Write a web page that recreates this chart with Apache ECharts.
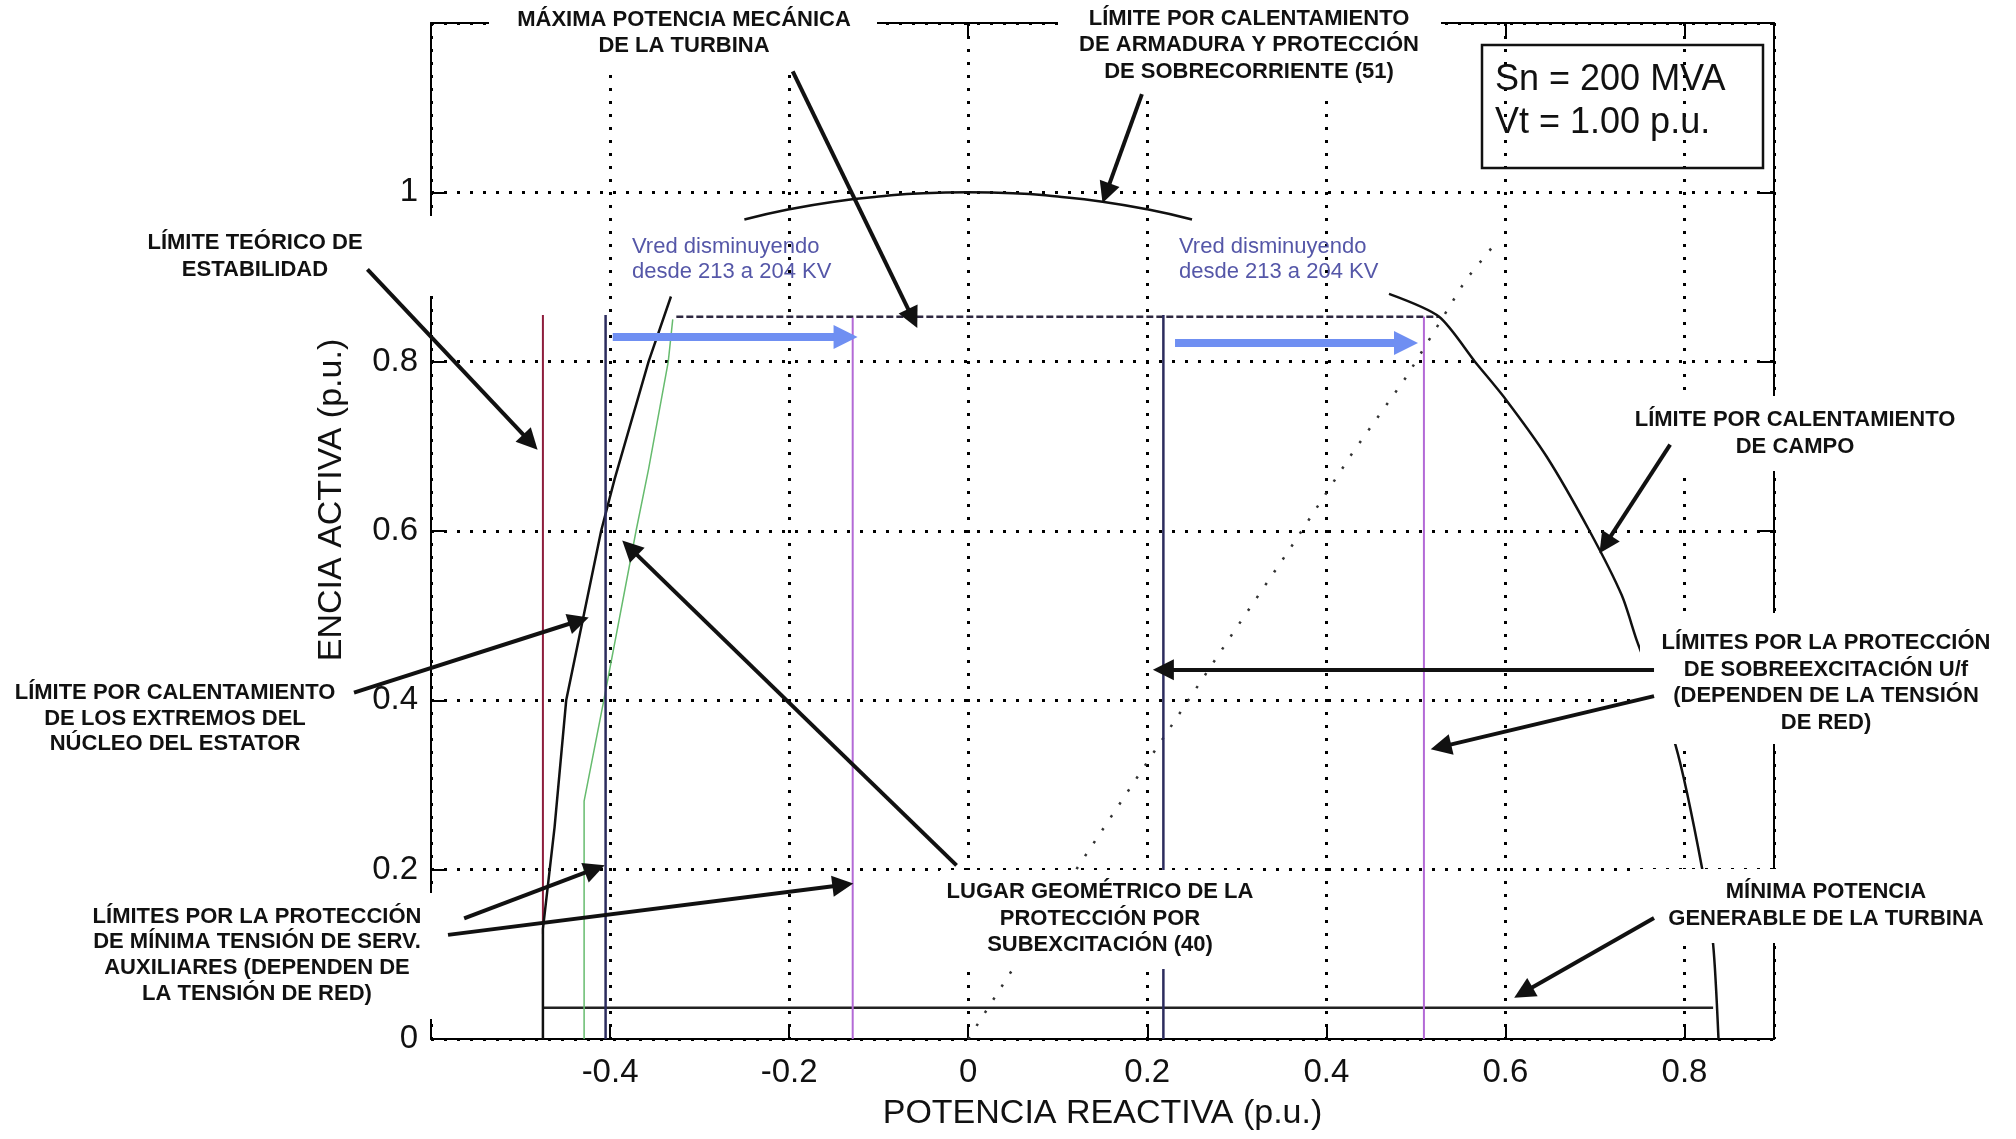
<!DOCTYPE html>
<html><head><meta charset="utf-8">
<script src="https://cdn.jsdelivr.net/npm/echarts@6/dist/echarts.min.js"></script>
<style>html,body{margin:0;padding:0;background:#fff}#c{width:2016px;height:1139px}</style>
</head><body><div id="c"></div>
<script>
// ---- Data (Q = reactive power p.u., P = active power p.u.) ----
const xTickValues = [-0.4, -0.2, 0, 0.2, 0.4, 0.6, 0.8];
const yTickValues = [0, 0.2, 0.4, 0.6, 0.8, 1];

const armatureLimit = [[-0.25,0.968],[-0.2,0.98],[-0.15,0.989],[-0.1,0.995],[-0.05,0.999],[0,1.0],[0.05,0.999],[0.1,0.995],[0.15,0.989],[0.2,0.98],[0.25,0.968]];
const turbineMaxPower = [[-0.326,0.853],[0.526,0.853]];
const fieldLimit = [[0.47,0.88],[0.526,0.853],[0.566,0.8],[0.6,0.756],[0.646,0.688],[0.694,0.6],[0.73,0.524],[0.747,0.47],[0.79,0.347],[0.82,0.2],[0.832,0.112],[0.838,0.0]];
const turbineMinPower = [[-0.475,0.037],[0.832,0.037]];
const statorEndLimit = [[-0.475,0],[-0.475,0.13],[-0.462,0.25],[-0.449,0.4],[-0.41,0.6],[-0.395,0.661],[-0.357,0.8],[-0.332,0.877]];
const stabilityLimit = [[-0.475,0.124],[-0.475,0.855]];
const auxVoltageLimit = [[-0.429,0],[-0.429,0.281],[-0.407,0.4],[-0.371,0.6],[-0.357,0.673],[-0.335,0.8],[-0.33,0.85]];
const underexcA = [[-0.405,0],[-0.405,0.855]];
const underexcB = [[-0.129,0],[-0.129,0.852]];
const overexcA = [[0.218,0],[0.218,0.855]];
const overexcB = [[0.509,0],[0.509,0.853]];
const underexcLocus = [[0,0],[0.123,0.204],[0.2,0.327],[0.296,0.48],[0.36,0.58],[0.429,0.692],[0.49,0.783],[0.556,0.897],[0.589,0.94]];

const vredArrows = [
  [[-0.397,0.829],[-0.137,0.829]],
  [[0.231,0.822],[0.489,0.822]]
];
const calloutArrows = [
  [[-0.196,1.143],[-0.062,0.851]],
  [[0.194,1.116],[0.154,0.999]],
  [[-0.671,0.909],[-0.489,0.705]],
  [[0.784,0.702],[0.7115,0.584]],
  [[0.766,0.436],[0.218,0.436]],
  [[0.766,0.405],[0.528,0.345]],
  [[-0.686,0.409],[-0.435,0.494]],
  [[-0.563,0.1425],[-0.417,0.2008]],
  [[-0.581,0.123],[-0.140,0.182]],
  [[-0.013,0.205],[-0.378,0.58]],
  [[0.766,0.143],[0.62,0.055]]
];

const notes = [
  {lines:['MÁXIMA POTENCIA MECÁNICA','DE LA TURBINA'], x:684, y:[20,46], box:[489,0,388,72]},
  {lines:['LÍMITE POR CALENTAMIENTO','DE ARMADURA Y PROTECCIÓN','DE SOBRECORRIENTE (51)'], x:1249, y:[19,45,72], box:[1058,0,383,95]},
  {lines:['LÍMITE TEÓRICO DE','ESTABILIDAD'], x:255, y:[243,270], box:[140,216,300,80]},
  {lines:['LÍMITE POR CALENTAMIENTO','DE CAMPO'], x:1795, y:[420,447], box:[1632,396,384,75]},
  {lines:['LÍMITES POR LA PROTECCIÓN','DE SOBREEXCITACIÓN U/f','(DEPENDEN DE LA TENSIÓN','DE RED)'], x:1826, y:[643,670,696,723], box:[1640,613,376,131]},
  {lines:['LÍMITE POR CALENTAMIENTO','DE LOS EXTREMOS DEL','NÚCLEO DEL ESTATOR'], x:175, y:[693,719,744], box:[0,665,350,93]},
  {lines:['LÍMITES POR LA PROTECCIÓN','DE MÍNIMA TENSIÓN DE SERV.','AUXILIARES (DEPENDEN DE','LA TENSIÓN DE RED)'], x:257, y:[917,942,968,994], box:[60,893,380,126]},
  {lines:['LUGAR GEOMÉTRICO DE LA','PROTECCIÓN POR','SUBEXCITACIÓN (40)'], x:1100, y:[892,919,945], box:[940,870,322,99]},
  {lines:['MÍNIMA POTENCIA','GENERABLE DE LA TURBINA'], x:1826, y:[892,919], box:[1632,869,384,74]}
];
const vredNotes = [
  {lines:['Vred disminuyendo','desde 213 a 204 KV'], x:632, y:[247,272]},
  {lines:['Vred disminuyendo','desde 213 a 204 KV'], x:1179, y:[247,272]}
];
const infoLines = ['Sn = 200 MVA', 'Vt = 1.00 p.u.'];

// ---- Chart ----
const FONT = '"Liberation Sans", Arial, Helvetica, sans-serif';
const chart = echarts.init(document.getElementById('c'));
const r1 = v => Math.round(v * 10) / 10;
const xFmt = v => { const r = r1(v); return xTickValues.indexOf(r) >= 0 ? String(r) : ''; };
const yFmt = v => { const r = r1(v); return yTickValues.indexOf(r) >= 0 ? String(r) : ''; };

function lineSeries(data, color, width, type, extra) {
  return Object.assign({
    type: 'line', data: data, showSymbol: false, symbol: 'none', silent: true,
    lineStyle: {color: color, width: width, type: type || 'solid'}
  }, extra || {});
}

const axisCommon = {
  type: 'value',
  axisLine: {onZero: false, lineStyle: {color: '#000', width: 2}},
  axisTick: {inside: true, length: 15, lineStyle: {color: '#000', width: 2}}
};
const gridLine = {show: true, lineStyle: {color: '#000', width: 3, type: [3, 10]}};

const graphics = [];
notes.forEach(n => {
  graphics.push({type: 'rect', silent: true, z: 50, shape: {x: n.box[0], y: n.box[1], width: n.box[2], height: n.box[3]}, style: {fill: '#fff'}});
  n.lines.forEach((t, i) => graphics.push({
    type: 'text', silent: true, z: 80, x: n.x, y: n.y[i],
    style: {text: t, font: 'bold 22px ' + FONT, fill: '#111', textAlign: 'center', textVerticalAlign: 'middle'}
  }));
});
vredNotes.forEach(n => n.lines.forEach((t, i) => graphics.push({
  type: 'text', silent: true, z: 80, x: n.x, y: n.y[i],
  style: {text: t, font: '22px ' + FONT, fill: '#5557a8', textAlign: 'left', textVerticalAlign: 'middle'}
})));
graphics.push({type: 'rect', silent: true, z: 80, shape: {x: 1482, y: 45, width: 281, height: 123}, style: {fill: 'none', stroke: '#111', lineWidth: 2.5}});
infoLines.forEach((t, i) => graphics.push({
  type: 'text', silent: true, z: 80, x: 1495, y: [80, 123][i],
  style: {text: t, font: '36px ' + FONT, fill: '#111', textAlign: 'left', textVerticalAlign: 'middle'}
}));
graphics.push({
  type: 'text', silent: true, z: 80, x: 332, y: 500, rotation: Math.PI / 2,
  style: {text: 'ENCIA ACTIVA (p.u.)', font: '34px ' + FONT, fill: '#111', textAlign: 'center', textVerticalAlign: 'middle'}
});

chart.setOption({
  animation: false,
  backgroundColor: '#fff',
  grid: {left: 431, right: 242, top: 23, bottom: 100, containLabel: false},
  xAxis: [
    Object.assign({}, axisCommon, {
      min: -0.6, max: 0.9, interval: 0.2, position: 'bottom',
      axisLabel: {margin: 17, fontSize: 33, fontFamily: FONT, color: '#111', formatter: xFmt},
      splitLine: gridLine,
      name: 'POTENCIA REACTIVA (p.u.)', nameLocation: 'middle', nameGap: 58,
      nameTextStyle: {fontSize: 34, fontFamily: FONT, color: '#111'}
    }),
    Object.assign({}, axisCommon, {
      min: -0.6, max: 0.9, interval: 0.2, position: 'top',
      axisLabel: {show: false}, splitLine: {show: false}
    })
  ],
  yAxis: [
    Object.assign({}, axisCommon, {
      min: 0, max: 1.2, interval: 0.2, position: 'left',
      axisLabel: {margin: 13, fontSize: 33, fontFamily: FONT, color: '#111', formatter: yFmt},
      splitLine: gridLine
    }),
    Object.assign({}, axisCommon, {
      min: 0, max: 1.2, interval: 0.2, position: 'right',
      axisLabel: {show: false}, splitLine: {show: false}
    })
  ],
  graphic: {elements: graphics},
  series: [
    lineSeries(underexcLocus, '#333', 2.5, [2.5, 13]),
    lineSeries(armatureLimit, '#111', 2.5, 'solid', {smooth: true}),
    lineSeries(turbineMaxPower, '#2e2840', 2.5, [7, 3]),
    lineSeries(fieldLimit, '#111', 2.5, 'solid', {smooth: 0.25}),
    lineSeries(turbineMinPower, '#222', 2.5),
    lineSeries(stabilityLimit, '#8e1d3c', 2),
    lineSeries(statorEndLimit, '#111', 2.5),
    lineSeries(auxVoltageLimit, '#66bb6e', 1.5),
    lineSeries(underexcA, '#2c2c5e', 2.5),
    lineSeries(underexcB, '#b36ad6', 2),
    lineSeries(overexcA, '#2c2c5e', 2.5),
    lineSeries(overexcB, '#b36ad6', 2),
    {
      type: 'lines', coordinateSystem: 'cartesian2d', silent: true, z: 30, clip: false,
      symbol: ['none', 'triangle'], symbolSize: 24,
      lineStyle: {color: '#6f8ff2', width: 8, opacity: 1},
      data: vredArrows.map(c => ({coords: c}))
    },
    {
      type: 'lines', coordinateSystem: 'cartesian2d', silent: true, z: 70, clip: false,
      symbol: ['none', 'triangle'], symbolSize: 21,
      lineStyle: {color: '#111', width: 4, opacity: 1},
      data: calloutArrows.map(c => ({coords: c}))
    }
  ]
});
</script>
</body></html>
